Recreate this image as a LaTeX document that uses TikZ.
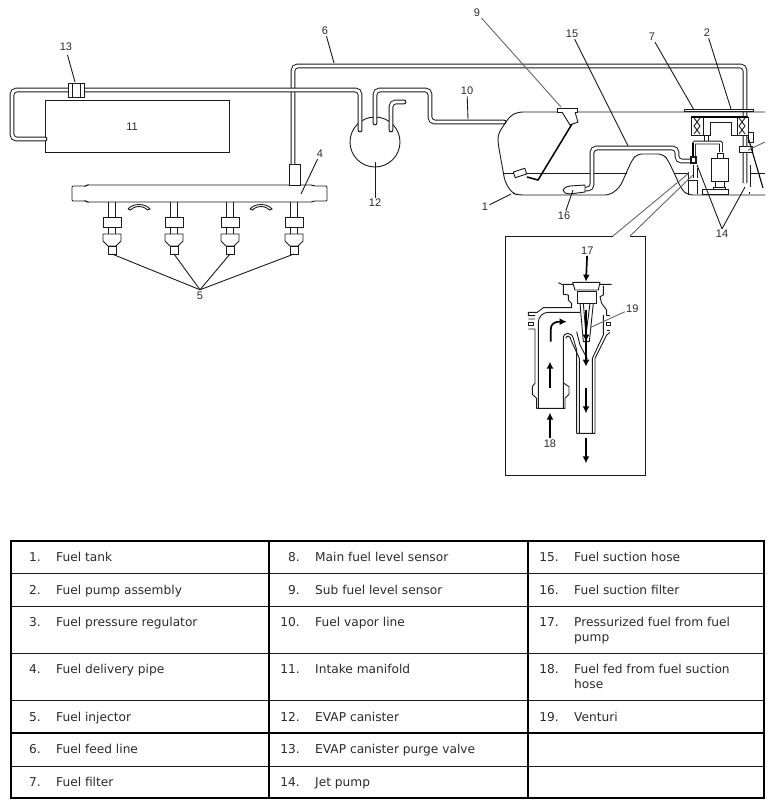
\documentclass[tikz,border=0pt]{standalone}
\usepackage{fontspec}
\setmainfont{DejaVu Sans}
\newfontfamily\lblfont{Liberation Sans}
\definecolor{ink}{HTML}{1A1A1A}
\definecolor{txt}{HTML}{2A2A2A}
\definecolor{grayline}{HTML}{666666}
\usetikzlibrary{arrows.meta}
\tikzset{
 part/.style={draw=ink,line width=.9pt,fill=white},
 edge/.style={draw=ink,line width=.9pt},
 pipe/.style={draw=ink,double=white,double distance=2.9pt,line width=.95pt,rounded corners=4.5pt},
 lbl/.style={font=\lblfont\fontsize{11}{12}\selectfont,text=txt,inner sep=1.2pt},
 leader/.style={draw=ink,line width=.9pt},
 gleader/.style={draw=grayline,line width=.9pt},
 heavy/.style={draw=black,line width=1.5pt},
 flow/.style={draw=black,line width=1.7pt,-{Latex[length=7pt,width=7pt]}},
 num/.style={anchor=base east,font=\fontsize{12.2}{14}\selectfont,text=txt,inner sep=0pt},
 cell/.style={anchor=base west,font=\fontsize{12.2}{14}\selectfont,text=txt,inner sep=0pt},
 thickrule/.style={draw=black,line width=1.8pt},
 thinrule/.style={draw=ink,line width=.7pt},
}
\begin{document}
\begin{tikzpicture}[x=1pt,y=-1pt]
\useasboundingbox (0,0) rectangle (774,809);
% ---- labels
\node[lbl] (l13) at (66,47) {13};
\node[lbl] (l6) at (325,31) {6};
\node[lbl] (l9) at (477,13) {9};
\node[lbl] (l15) at (572,34) {15};
\node[lbl] (l7) at (652,37) {7};
\node[lbl] (l2) at (707,33) {2};
\node[lbl] (l10) at (467,91) {10};
\node[lbl] (l4) at (320,154) {4};
\node[lbl] (l12) at (375,203) {12};
\node[lbl] (l5) at (200,296) {5};
\node[lbl] (l1) at (485,207) {1};
\node[lbl] (l16) at (564,216) {16};
\node[lbl] (l14) at (722,234) {14};
% ---- left engine side
\node[part,minimum width=184pt,minimum height=52pt,anchor=north west,inner sep=0pt] (manifold) at (45,100) {};
\node[lbl] (l11) at (132,127) {11};
\draw[part,rounded corners=1pt] (72,186) -- (86,186) -- (87,185) -- (312,185) -- (314,186) -- (327,186) -- (327,201) -- (314,201) -- (312,202) -- (87,202) -- (86,201) -- (72,201) -- cycle;
\draw[part] (289,164) rectangle (300,185);
\coordinate (feedA) at (293,164);
\draw[pipe] (feedA) -- (293,66) -- (745,66) -- (745,183);
\coordinate (manL) at (45,139);
\coordinate (canA) at (360,130);
\coordinate (canB) at (375,123);
\coordinate (canC) at (391,130);
\node[part,circle,minimum size=50pt,inner sep=0pt] (canister) at (375,142) {};
\draw[pipe,line cap=round] (manL) -- (12,139) -- (12,90) -- (360,90) -- (canA);
\draw[pipe,line cap=round] (canB) -- (375,90) -- (430,90) -- (430,122) -- (504,122);
\draw[pipe,line cap=round] (canC) -- (391,102) -- (404,102);
\draw[part] (68,83) rectangle (84,97);
\draw[edge] (72,83) -- (72,97) (80,83) -- (80,97);
\foreach \x/\n in {112/a,174/b,230/c,294/d}{
  \draw[edge] (\x-3.5,202) -- (\x-3.5,234) (\x+3.5,202) -- (\x+3.5,234);
  \draw[part] (\x-9,217) rectangle (\x+9,227);
  \draw[part] (\x-9,234) -- (\x+9,234) -- (\x+9,241) -- (\x+4,246) -- (\x-4,246) -- (\x-9,241) -- cycle;
  \draw[part] (\x-4,246) rectangle (\x+4,254);
  \coordinate (inj\n) at (\x,254);
  \draw[leader] (l5.north) ++(0,-1) -- (inj\n);
}
\foreach \x in {139,261}{
  \draw[edge] (\x-11,209) .. controls (\x-6,203) and (\x+6,203) .. (\x+11,209)
     .. controls (\x+9,211) and (\x+8,210) .. (\x+6,208)
     .. controls (\x+2,206) and (\x-2,206) .. (\x-6,208)
     .. controls (\x-8,210) and (\x-9,211) .. (\x-11,209);
}
% ---- tank
\draw[edge,rounded corners=5pt] (765,112) -- (518,112) -- (510,116) -- (498,134) -- (498,143) -- (505,182) -- (512,193) -- (518,195) -- (610,195) -- (620,187) -- (632,160) -- (637,154) -- (663,154) -- (668,160) -- (682,190) -- (688,195) -- (765,195);
\draw[edge] (504,173) -- (627,173) (674,173) -- (688,173) (750,173) -- (765,173);
% sub sensor
\draw[part] (557,108) rectangle (577,112);
\draw[part] (562,112) -- (570,125) -- (578,122) -- (575,112);
\draw[heavy] (572,124) -- (538,180) -- (527,177);
\draw[part,rotate around={18:(520,173)}] (514,170) rectangle (526,176);
% suction hose and filter
\draw[pipe] (585,189) -- (592,189) -- (592,148) -- (677,148) -- (677,161) -- (691,161);
\draw[part] (563,190) .. controls (565,187) and (568,186) .. (570,186) -- (585,185) -- (585,192) -- (570,194) -- (565,193) -- cycle;
% pump assembly
\draw[part,line width=.7pt] (684,109) rectangle (753,111);
\draw[part] (691,117) rectangle (703,135);
\draw[part] (737,117) rectangle (748,135);
\draw[heavy] (691,117) -- (748,117);
\foreach \x/\w in {697/3,742/3}{
 \draw[edge] (\x-\w,118) -- (\x+\w,126) -- (\x-\w,134) (\x+\w,118) -- (\x-\w,126) -- (\x+\w,134);
}
\draw[edge] (703,135) -- (710,135) -- (710,122) -- (731,122) -- (731,135) -- (737,135);
\draw[part] (704,135) rectangle (708,142);
\draw[pipe,double distance=2pt,rounded corners=1pt] (721,152) -- (721,142.5) -- (694,142.5) -- (694,156);
\draw[heavy] (693,143) -- (693,158);
\draw[part] (717,153) rectangle (723,158);
\draw[part] (711,158) rectangle (728,181);
\draw[part] (715,181) rectangle (724,187);
\draw[part] (713,187) rectangle (725,189);
\draw[part] (702,189) rectangle (728,194);
\draw[part,line width=1.1pt] (691,157) rectangle (696,163);
\draw[edge] (688,172) -- (688,195) (688,180) -- (697,180) -- (697,194);
\draw[edge] (693,165) -- (693,178) (697,168) -- (697,178);
\draw[part] (748,132) rectangle (753,142);
\draw[part] (739,146) rectangle (752,152);
\draw[heavy,line width=1.1pt] (748,137) -- (763,188);
\draw[edge] (750,165) -- (750,187);
\fill[ink] (748.5,192) rectangle (750,193.5);
\coordinate (jetA) at (697,165);
\coordinate (jetB) at (745,187);
% ---- leaders
\coordinate (t13) at (75,82);
\draw[leader] (67.5,55) -- (t13);
\coordinate (t6) at (334,63);
\draw[leader] (l6) -- (t6);
\coordinate (t9) at (561,107);
\draw[gleader] (l9) -- (t9);
\coordinate (t15) at (628,146);
\draw[leader] (l15) -- (t15);
\coordinate (t7) at (694,110);
\draw[leader] (l7) -- (t7);
\coordinate (t2) at (731,109);
\draw[leader] (l2) -- (t2);
\coordinate (t10) at (468,119);
\draw[leader] (l10) -- (t10);
\coordinate (t4) at (301,194);
\draw[leader] (l4) -- (t4);
\coordinate (t12) at (375,162);
\draw[leader] (l12) -- (t12);
\coordinate (t1) at (511,194);
\draw[leader] (l1) -- (t1);
\coordinate (t16) at (573,190);
\draw[leader] (l16) -- (t16);
\draw[leader] (l14.north) -- (jetA);
\draw[leader] (l14.north) -- (jetB);
\coordinate (t3) at (748,150);
\coordinate (e3) at (765,142);
\draw[gleader] (e3) -- (t3);
% ---- inset
\coordinate (gapA) at (613,236);
\coordinate (gapB) at (630,236);
\coordinate (hitA) at (689,173);
\coordinate (hitB) at (693,175);
\draw[leader] (gapA) -- (505,236) -- (505,475) -- (645,475) -- (645,236) -- (gapB);
\draw[gleader] (gapA) -- (hitA);
\draw[gleader] (gapB) -- (hitB);
\begin{scope}[shift={(500,235)},x=.3333pt,y=-.3333pt,line join=round]
 \node[lbl] (l17) at (262,47) {17};
 \node[lbl] (l18) at (150,625) {18};
 \node[lbl] (l19) at (397,220) {19};
 % head
 \draw[edge] (175,143) -- (190,150) -- (190,178) -- (205,180) -- (205,195) -- (215,205) -- (215,218) -- (130,218) -- (112,232) -- (85,232) -- (85,242) -- (105,242);
 \draw[edge] (190,148) -- (218,148) (218,142) -- (300,142) -- (295,165) -- (225,165) -- cycle;
 \draw[edge] (300,148) -- (335,148) (310,152) -- (310,180) -- (300,185) -- (305,205) -- (320,225) -- (320,242) -- (330,242);
 \draw[edge] (232,168) rectangle (288,205);
 \draw[edge] (240,205) -- (250,320) -- (268,320) -- (280,205);
 \draw[edge] (250,205) -- (258,300) -- (270,205);
 % elbow
 \draw[edge] (85,262) rectangle (100,272);
 \draw[edge] (85,252) -- (105,252) (85,282) -- (105,282) -- (105,445) -- (97,455) -- (97,478) -- (110,490) -- (110,520) -- (195,520) -- (195,490) -- (207,478) -- (207,455) -- (192,445);
 \draw[edge,rounded corners=10pt] (115,520) -- (115,232) -- (240,232);
 \draw[edge] (190,520) -- (190,310) .. controls (190,290) and (215,290) .. (220,310) -- (230,345) -- (230,595);
 \draw[edge] (198,310) .. controls (198,300) and (212,300) .. (214,318) -- (238,370) -- (238,595);
 \draw[edge] (230,290) -- (240,330) -- (262,372);
 % mixing tube
 \draw[edge] (230,595) -- (285,595) -- (285,370) -- (320,300) -- (330,292);
 \draw[edge] (277,595) -- (277,370) -- (310,300) -- (310,240);
 \draw[edge] (318,262) rectangle (330,272);
 \draw[edge] (320,285) -- (330,285);
 % arrows
 \draw[flow] (l17) -- (258,140);
 \draw[flow] (258,225) -- (258,320);
 \draw[flow] (258,260) -- (258,395);
 \draw[flow] (258,460) -- (258,535);
 \draw[flow] (258,610) -- (258,685);
 \draw[flow] (l18) -- (150,533);
 \draw[flow] (150,460) -- (150,380);
 \draw[flow] (152,320) -- (152,285) .. controls (152,265) and (165,260) .. (200,260);
 \coordinate (t19) at (270,278);
 \draw[gleader] (l19) -- (t19);
\end{scope}
% ---- table
\draw[thinrule] (11,573) -- (764,573) (11,606) -- (764,606) (11,653) -- (764,653) (11,700) -- (764,700) (11,766) -- (764,766);
\draw[thickrule] (11,733) -- (764,733);
\draw[thickrule] (11,541) rectangle (764,798);
\draw[thickrule] (269,541) -- (269,798) (528,541) -- (528,798);
\foreach \y/\a/\b/\c/\d/\e/\f in {
 561.5/1./Fuel tank/8./Main fuel level sensor/15./Fuel suction hose,
 594.5/2./Fuel pump assembly/9./Sub fuel level sensor/16./Fuel suction filter,
 626.5/3./Fuel pressure regulator/10./Fuel vapor line/17./Pressurized fuel from fuel,
 673.5/4./Fuel delivery pipe/11./Intake manifold/18./Fuel fed from fuel suction,
 721.5/5./Fuel injector/12./EVAP canister/19./Venturi,
 753.5/6./Fuel feed line/13./EVAP canister purge valve//,
 786.5/7./Fuel filter/14./Jet pump//}{
 \node[num] at (41,\y) {\a};
 \node[cell] at (56,\y) {\b};
 \node[num] at (300,\y) {\c};
 \node[cell] at (315,\y) {\d};
 \node[num] at (559,\y) {\e};
 \node[cell] at (574,\y) {\f};
}
\node[cell] (c17b) at (574,641.5) {pump};
\node[cell] (c18b) at (574,688.5) {hose};
\end{tikzpicture}
\end{document}
